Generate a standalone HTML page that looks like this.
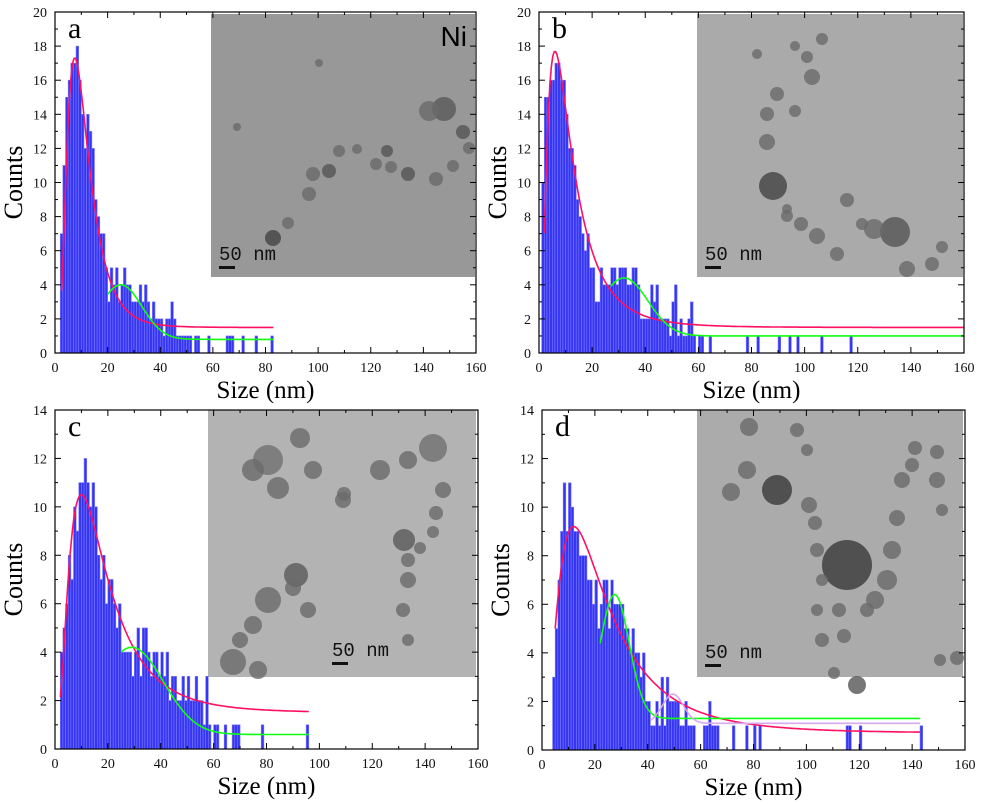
<!DOCTYPE html>
<html><head><meta charset="utf-8">
<style>
html,body{margin:0;padding:0;background:#fff;}
svg{display:block;font-family:"Liberation Serif",serif;}
</style></head>
<body>
<svg id="fig" width="985" height="804" viewBox="0 0 985 804"></svg>
<script>
// ---- data ----
const aStart = 2;
const aCounts = [7,11,15,16,17,17,18,16,14,12,14,13,12,9,8,7,7,5,3,5,4,5,3,4,5,4,4,3,3,3,4,3,4,3,2,3,2,2,2,1,2,2,3,2,1,1,1,1,1,1,0,1,1,0,0,0,1,0,0,0,0,0,0,1,1,1,0,0,0,1,0,0,0,0,1,0,0,0,0,0,1];
const bStart = 1;
const bCounts = [10,15,15,16,16,17,17,16,16,14,12,12,11,9,8,7,6,7,5,5,3,3,5,4,4,4,5,5,4,5,5,5,4,4,5,5,4,2,2,2,2,4,3,4,2,2,2,2,1,3,4,1,2,1,1,2,3,1,0,1,1,0,0,1];
const bExtraX = [78,82,90,94,97,106,117];
const cStart = 2;
const cCounts = [4,5,6,8,7,10,9,11,11,12,11,10,11,10,8,7,8,6,7,7,6,5,6,4,4,4,4,3,4,5,3,5,5,4,3,4,4,3,4,3,4,2,3,3,2,2,3,2,3,2,2,3,2,2,1,3,1,0,1,1,0,0,1,0,0,1,1,1,0,0,0,0,0,0,0,0,1,0,0,0,0,0,0,0,0,0,0,0,0,0,0,0,0,1];
const dStart = 4;
const dCounts = [3,5,7,9,11,9,11,10,9,9,8,8,8,7,7,6,7,5,6,7,7,5,7,6,6,6,6,5,5,4,5,4,4,3,4,2,2,1,1,2,1,3,1,3,2,2,2,2,1,1,2,1,1,1,0,0,0,1,1,2,1,1,1,0,0,0,0,0,1];
const dExtraX = [77,80,82,115,116,120,143];
// fit parameters: [offset, amplitude, center, width, xmin, xmax]
const aRed = [1.5,15.8,7.5,0.55,2.5,83];
const aGreen = [0.8,3.2,25,8,20,83];
const bRed = [1.5,16.2,6,0.75,2,160];
const bGreen = [1.0,3.4,32,9,27,160];
const cRed = [1.5,9.0,10,0.7,2,96];
const cGreen = [0.6,3.6,29,12,25,96];
const dRed = [0.7,8.5,12,0.75,5,143];
const dGreen = [1.3,5.1,27.5,5.5,22,143];
const dLav = [1.1,1.2,49.5,4,41,143];
const xTicks = [0,20,40,60,80,100,120,140,160];
const yTicksTop = [0,2,4,6,8,10,12,14,16,18,20];
const yTicksBot = [0,2,4,6,8,10,12,14];

const NS="http://www.w3.org/2000/svg";
const svg=document.getElementById('fig');
function mk(tag,attrs,parent){const e=document.createElementNS(NS,tag);for(const k in attrs)e.setAttribute(k,attrs[k]);(parent||svg).appendChild(e);return e;}

function panel(P){
  const g=mk('g',{});
  
  
  const sx=v=>P.x0+(v/160)*(P.x1-P.x0);
  const sy=v=>P.y0-(v/P.ymax)*(P.y0-P.y1);
  const ins=mk('g',{},g);
  
  
  mk('rect',{x:P.ins[0],y:P.ins[1],width:P.ins[2],height:P.ins[3],fill:P.insColor},ins);
  P.parts.forEach(p=>mk('circle',{cx:P.ins[0]+p[0],cy:P.ins[1]+p[1],r:p[2],fill:p[3]||'#6a6a6a',opacity:0.8},ins));
  const sb=mk('rect',{x:P.ins[0]+P.sb[0],y:P.ins[1]+P.sb[1]+6,width:16,height:3,fill:'#111'},ins);
  
  
  const st=mk('text',{x:P.ins[0]+P.sb[0],y:P.ins[1]+P.sb[1],'font-family':'"Liberation Mono",monospace','font-size':19,fill:'#111'},ins);
  st.textContent='50 nm';
  
  
  const bars=mk('g',{},g);
  
  
  const addBar=(x,c)=>{ if(c<=0)return; const r=mk('rect',{x:sx(x),y:sy(c),width:sx(x+1)-sx(x),height:sy(0)-sy(c),fill:'#3535f2',stroke:'#7a7aff','stroke-width':0.6},bars);
     };
  P.counts.forEach((c,i)=>addBar(P.start+i,c));
  (P.extra||[]).forEach(x=>addBar(x,1));
  P.fits.forEach(f=>{
    const [y0,A,xc,w,xa,xb]=f.p; let d='';
    for(let i=0;i<=300;i++){const x=xa+(xb-xa)*i/300;
      const y=f.type==='log'?y0+A*Math.exp(-Math.pow(Math.log(x/xc),2)/(2*w*w)):y0+A*Math.exp(-Math.pow(x-xc,2)/(2*w*w));
      d+=(i?'L':'M')+sx(x).toFixed(1)+','+sy(y).toFixed(1);}
    const pth=mk('path',{d:d,fill:'none',stroke:f.c,'stroke-width':1.6},g);
    
    
  });
  const fr=mk('rect',{x:P.x0,y:P.y1,width:P.x1-P.x0,height:P.y0-P.y1,fill:'none',stroke:'#000','stroke-width':1.2},g);
  
  
  const xa=mk('g',{},g);
  
  
  for(let v=0;v<=160;v+=10){const maj=v%20===0;const L=maj?6:3;
    mk('line',{x1:sx(v),x2:sx(v),y1:P.y0,y2:P.y0-L,stroke:'#000'},xa);
    mk('line',{x1:sx(v),x2:sx(v),y1:P.y1,y2:P.y1+L,stroke:'#000'},xa);}
  xTicks.forEach(v=>{const t=mk('text',{x:sx(v),y:P.y0+19,'text-anchor':'middle','font-size':14,fill:'#111'},xa);t.textContent=v;
     });
  const xt=mk('text',{x:(P.x0+P.x1)/2,y:P.y0+45,'text-anchor':'middle','font-size':25,fill:'#000'},xa);
  xt.textContent='Size (nm)';
  
  
  const ya=mk('g',{},g);
  
  
  for(let v=0;v<=P.ymax;v+=1){const maj=v%2===0;const L=maj?6:3;
    mk('line',{x1:P.x0,x2:P.x0+L,y1:sy(v),y2:sy(v),stroke:'#000'},ya);
    mk('line',{x1:P.x1,x2:P.x1-L,y1:sy(v),y2:sy(v),stroke:'#000'},ya);}
  P.yt.forEach(v=>{const t=mk('text',{x:P.x0-8,y:sy(v)+5,'text-anchor':'end','font-size':14,fill:'#111'},ya);t.textContent=v;
     });
  const cy=(P.y0+P.y1)/2;
  const yt=mk('text',{x:P.x0-33,y:cy,'text-anchor':'middle','font-size':26,fill:'#000',transform:`rotate(-90 ${P.x0-33} ${cy})`},ya);
  yt.textContent='Counts';
  
  
  const lb=mk('text',{x:P.x0+13,y:P.y1+26,'font-size':30,fill:'#000'},g);
  lb.textContent=P.id;
  
  
  if(P.ni){const n=mk('text',{x:P.ins[0]+P.ins[2]-8,y:P.ins[1]+32,'text-anchor':'end','font-family':'"Liberation Sans",sans-serif','font-size':28,fill:'#000'},g);
    n.textContent='Ni';  }
}

panel({id:'a',x0:55,x1:476,y0:353,y1:12,ymax:20,yt:yTicksTop,start:aStart,counts:aCounts,
  ins:[211,14,264,263],insColor:'#989898',sb:[8,246],ni:true,
  parts:[[62,224,8,'#444'],[77,209,6],[98,180,7],[102,160,7],[118,157,7,'#555'],[128,137,6],[146,135,5],[165,150,6],[180,153,6],[197,160,7,'#555'],[225,165,7],[242,152,6],[258,134,6],[252,118,7,'#555'],[233,95,12,'#5a5a5a'],[218,97,10],[176,137,6,'#555'],[108,49,4],[26,113,4]],
  fits:[{type:'log',p:aRed,c:'#ff1060',name:'lognormal-fit-a'},{type:'gauss',p:aGreen,c:'#10ff10',name:'gaussian-fit-a'}]});
panel({id:'b',x0:539,x1:964,y0:353,y1:12,ymax:20,yt:yTicksTop,start:bStart,counts:bCounts,extra:bExtraX,
  ins:[697,14,266,263],insColor:'#aaaaaa',sb:[8,246],
  parts:[[76,172,14,'#444'],[198,218,15,'#555'],[177,215,10],[70,128,8],[70,100,7],[80,80,7],[98,97,6],[115,63,8],[110,43,6],[125,25,6],[98,32,5],[210,255,8],[235,250,7],[245,233,6],[120,222,8],[104,210,7],[90,202,6],[150,186,7],[165,210,6],[140,240,7],[60,40,5],[90,195,5]],
  fits:[{type:'log',p:bRed,c:'#ff1060',name:'lognormal-fit-b'},{type:'gauss',p:bGreen,c:'#10ff10',name:'gaussian-fit-b'}]});
panel({id:'c',x0:55,x1:478,y0:749,y1:410,ymax:14,yt:yTicksBot,start:cStart,counts:cCounts,
  ins:[208,410,268,267],insColor:'#b3b3b3',sb:[124,246],
  parts:[[60,50,15,'#707070'],[45,60,11],[70,78,11],[92,28,10],[105,60,9],[135,90,8],[172,60,10],[225,38,14,'#707070'],[200,50,9],[235,80,8],[228,103,7],[225,122,6],[212,138,6],[200,150,7],[200,170,8],[196,130,11,'#5a5a5a'],[195,200,7],[200,230,6],[60,190,13],[88,165,12,'#5a5a5a'],[85,178,8],[45,215,9],[32,230,8],[25,252,13],[50,260,9],[100,200,8],[136,84,7]],
  fits:[{type:'log',p:cRed,c:'#ff1060',name:'lognormal-fit-c'},{type:'gauss',p:cGreen,c:'#10ff10',name:'gaussian-fit-c'}]});
panel({id:'d',x0:542,x1:965,y0:750,y1:410,ymax:14,yt:yTicksBot,start:dStart,counts:dCounts,extra:dExtraX,
  ins:[697,410,266,267],insColor:'#ababab',sb:[8,248],
  parts:[[150,155,25,'#3a3a3a'],[80,80,15,'#3a3a3a'],[34,82,9],[50,60,9],[52,17,9],[110,40,6],[100,20,7],[112,95,8],[118,113,7],[120,140,7],[125,170,6],[120,200,6],[125,230,7],[137,263,6],[142,200,7],[170,200,7],[178,190,9],[190,170,10],[195,140,9],[200,108,8],[205,70,8],[215,55,7],[218,38,7],[240,42,7],[240,70,8],[245,100,6],[260,248,7],[243,250,6],[147,226,7],[160,275,9,'#555']],
  fits:[{type:'log',p:dRed,c:'#ff1060',name:'lognormal-fit-d'},{type:'gauss',p:dGreen,c:'#10ff10',name:'gaussian-fit-d-1'},{type:'gauss',p:dLav,c:'#d8a8f0',name:'gaussian-fit-d-2'}]});
</script>
</body></html>
